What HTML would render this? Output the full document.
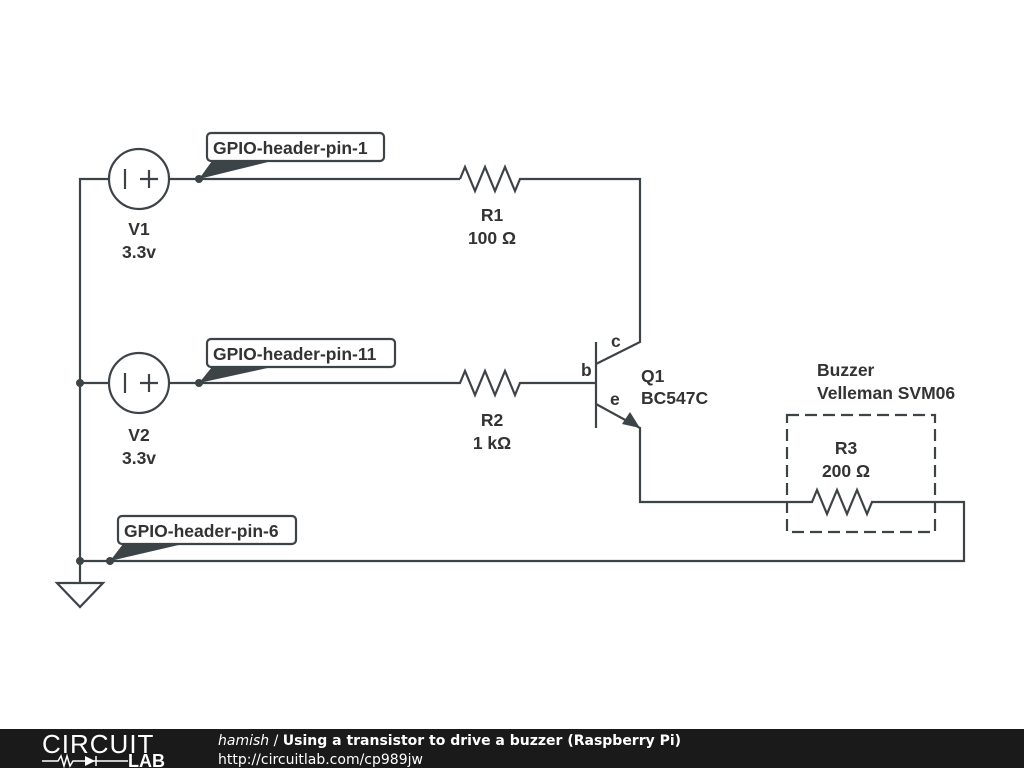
<!DOCTYPE html>
<html><head><style>
body{margin:0;width:1024px;height:768px;background:#fff;overflow:hidden}
svg{position:absolute;left:0;top:0}
text{font-family:"Liberation Sans",sans-serif;font-weight:bold;font-size:17.5px;fill:#333}
.ft{font-family:"DejaVu Sans","Liberation Sans",sans-serif;fill:#fff;font-size:14px}
</style></head><body>
<svg width="1024" height="768" viewBox="0 0 1024 768">
<g stroke="#3d4448" stroke-width="2.2" fill="none">
<polyline points="109,179 80,179 80,583"/>
<line x1="80" y1="383" x2="109" y2="383"/>
<polygon points="57,583 103,583 80,607"/>
<circle cx="139" cy="179" r="30"/>
<line x1="125" y1="169" x2="125" y2="189"/>
<line x1="140" y1="179" x2="158" y2="179"/><line x1="149" y1="170" x2="149" y2="188"/>
<polyline points="169,179 460,179"/>
<polyline points="460,179 465,167 475,191 485,167 495,191 505,167 515,191 520,179 640,179 640,342 596,364"/>
<circle cx="139" cy="383" r="30"/>
<line x1="125" y1="373" x2="125" y2="393"/>
<line x1="140" y1="383" x2="158" y2="383"/><line x1="149" y1="374" x2="149" y2="392"/>
<polyline points="169,383 460,383 465,371 475,395 485,371 495,395 505,371 515,395 520,383 596,383"/>
<line x1="596" y1="342" x2="596" y2="428"/>
<polyline points="596,404 640,428 640,502 812,502 817,490 827,514 837,490 847,514 857,490 867,514 872,502 964,502 964,561 80,561"/>
<rect x="787" y="415" width="148" height="117" stroke-dasharray="12,6"/>
<rect x="207" y="133" width="177" height="28" rx="4" fill="#fff"/>
<rect x="207" y="339" width="188" height="28" rx="4" fill="#fff"/>
<rect x="118" y="516" width="178" height="28" rx="4" fill="#fff"/>
</g>
<g fill="#3d4448">
<polygon points="640,428 622,424 630,412"/>
<polygon points="199,179 212,161 272,161"/>
<polygon points="199,383 212,367 272,367"/>
<polygon points="110,561 123,544 183,544"/>
<circle cx="199" cy="179" r="4"/><circle cx="199" cy="383" r="4"/>
<circle cx="80" cy="383" r="4"/><circle cx="80" cy="561" r="4"/><circle cx="110" cy="561" r="4"/>
</g>
<text x="213" y="154">GPIO-header-pin-1</text>
<text x="213" y="360">GPIO-header-pin-11</text>
<text x="124" y="537">GPIO-header-pin-6</text>
<text x="139" y="235" text-anchor="middle">V1</text>
<text x="139" y="258" text-anchor="middle">3.3v</text>
<text x="139" y="441" text-anchor="middle">V2</text>
<text x="139" y="464" text-anchor="middle">3.3v</text>
<text x="492" y="221" text-anchor="middle">R1</text>
<text x="492" y="244" text-anchor="middle">100 Ω</text>
<text x="492" y="426" text-anchor="middle">R2</text>
<text x="492" y="449" text-anchor="middle">1 kΩ</text>
<text x="846" y="454" text-anchor="middle">R3</text>
<text x="846" y="477" text-anchor="middle">200 Ω</text>
<text x="611" y="347">c</text>
<text x="581" y="376">b</text>
<text x="610" y="405">e</text>
<text x="641" y="382">Q1</text>
<text x="641" y="404">BC547C</text>
<text x="817" y="376">Buzzer</text>
<text x="817" y="399">Velleman SVM06</text>
<rect x="0" y="729" width="1024" height="39" fill="#1a1a1a"/>
<text x="42" y="753" style="font-weight:normal;font-size:26px;fill:#fff;letter-spacing:1px">CIRCUIT</text>
<g stroke="#fff" stroke-width="1.5" fill="none"><polyline points="42,761 58,761 61,756 64,766 67,756 70,766 73,761 100,761 128,761"/><line x1="96" y1="756" x2="96" y2="766"/></g>
<polygon points="85,756 85,766 95,761" fill="#fff"/>
<text x="128" y="767" style="fill:#fff;font-size:18px">LAB</text>
<text x="218" y="745" class="ft"><tspan style="font-style:italic;font-weight:normal">hamish</tspan><tspan style="font-weight:normal"> / </tspan>Using a transistor to drive a buzzer (Raspberry Pi)</text>
<text x="218" y="764" class="ft" style="font-weight:normal">http://circuitlab.com/cp989jw</text>
</svg>
</body></html>
